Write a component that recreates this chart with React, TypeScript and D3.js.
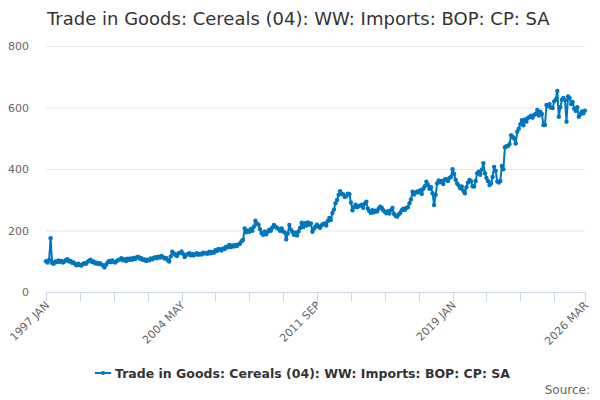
import React, { useEffect, useRef } from 'react';
import * as d3 from 'd3';

const TITLE = 'Trade in Goods: Cereals (04): WW: Imports: BOP: CP: SA';
const START_YEAR = 1997;
const MONTHS = ['JAN', 'FEB', 'MAR', 'APR', 'MAY', 'JUN', 'JUL', 'AUG', 'SEP', 'OCT', 'NOV', 'DEC'];
const yTicks = [0, 200, 400, 600, 800];
const labelledTicks = [0, 88, 176, 264, 350];

// monthly values (£m), one row per year
const v1997 = [100, 96, 104, 175, 94, 92, 99, 97, 103, 98, 101, 96];
const v1998 = [99, 104, 107, 99, 101, 95, 96, 90, 87, 92, 88, 86];
const v1999 = [91, 94, 92, 98, 102, 105, 97, 99, 93, 95, 91, 94];
const v2000 = [90, 86, 80, 89, 96, 101, 97, 103, 98, 96, 101, 104];
const v2001 = [106, 110, 103, 107, 101, 108, 104, 109, 105, 111, 107, 113];
const v2002 = [114, 108, 110, 104, 106, 101, 105, 103, 109, 106, 111, 113];
const v2003 = [110, 115, 112, 117, 113, 109, 111, 104, 99, 116, 131, 125];
const v2004 = [121, 117, 126, 127, 132, 124, 114, 120, 123, 126, 119, 124];
const v2005 = [119, 123, 126, 121, 124, 122, 128, 125, 127, 124, 131, 126];
const v2006 = [130, 128, 136, 133, 140, 138, 135, 142, 140, 147, 145, 153];
const v2007 = [146, 151, 148, 153, 150, 155, 157, 165, 170, 207, 194, 199];
const v2008 = [196, 205, 199, 212, 232, 222, 219, 204, 191, 186, 197, 188];
const v2009 = [196, 203, 199, 210, 218, 212, 209, 205, 199, 207, 197, 194];
const v2010 = [171, 190, 218, 203, 196, 186, 193, 184, 197, 208, 225, 211];
const v2011 = [224, 216, 226, 219, 223, 196, 206, 213, 219, 212, 209, 217];
const v2012 = [221, 223, 216, 231, 241, 234, 257, 268, 289, 299, 316, 328];
const v2013 = [319, 317, 309, 312, 320, 318, 291, 266, 276, 284, 276, 279];
const v2014 = [281, 284, 274, 287, 294, 271, 263, 257, 266, 259, 264, 262];
const v2015 = [271, 277, 274, 266, 261, 256, 263, 255, 266, 273, 254, 248];
const v2016 = [245, 252, 257, 266, 271, 267, 273, 276, 289, 301, 326, 317];
const v2017 = [323, 327, 324, 331, 319, 336, 344, 359, 349, 336, 341, 321];
const v2018 = [283, 316, 354, 363, 357, 361, 351, 366, 367, 361, 371, 374];
const v2019 = [399, 384, 365, 353, 346, 337, 343, 329, 321, 341, 356, 364];
const v2020 = [360, 344, 343, 361, 386, 391, 381, 398, 419, 386, 371, 361];
const v2021 = [348, 353, 374, 407, 394, 359, 356, 361, 410, 399, 471, 474];
const v2022 = [475, 481, 510, 504, 499, 483, 521, 531, 546, 559, 542, 561];
const v2023 = [554, 566, 569, 573, 567, 576, 579, 592, 574, 586, 579, 543];
const v2024 = [543, 608, 604, 611, 599, 598, 620, 626, 654, 570, 601, 625];
const v2025 = [631, 624, 554, 636, 631, 611, 618, 596, 589, 601, 570, 578];
const v2026 = [587, 581, 590];

const values = [
  v1997, v1998, v1999, v2000, v2001, v2002, v2003, v2004, v2005, v2006,
  v2007, v2008, v2009, v2010, v2011, v2012, v2013, v2014, v2015, v2016,
  v2017, v2018, v2019, v2020, v2021, v2022, v2023, v2024, v2025, v2026,
].flat();

const monthLabel = (i: number) => `${START_YEAR + Math.floor(i / 12)} ${MONTHS[i % 12]}`;

const W = 600;
const H = 400;
const margin = { left: 46, right: 15, top: 46, bottom: 108 };
const FONT = 'DejaVu Sans, sans-serif';
const BLUE = '#0076be';

export default function App() {
  const svgRef = useRef<SVGSVGElement>(null);

  useEffect(() => {
    if (svgRef.current === null) {
      return;
    }
    const svg = d3.select(svgRef.current);
    svg.selectAll('*').remove();

    const x = d3.scaleLinear().domain([0, values.length - 1]).range([margin.left, W - margin.right]);
    const y = d3.scaleLinear().domain([0, 800]).range([H - margin.bottom, margin.top]);

    svg.append('text')
      .attr('x', 47)
      .attr('y', 25)
      .attr('font-family', FONT)
      .attr('font-size', 18)
      .attr('fill', '#333')
      .text(TITLE);

    // gridlines + y labels
    const yAxis = svg.append('g');
    yAxis.selectAll('line')
      .data(yTicks.filter((t) => t > 0))
      .join('line')
      .attr('x1', margin.left)
      .attr('x2', W - margin.right)
      .attr('y1', (d) => y(d) + 0.5)
      .attr('y2', (d) => y(d) + 0.5)
      .attr('stroke', '#e6e6e6');
    yAxis.selectAll('text')
      .data(yTicks)
      .join('text')
      .attr('x', 29)
      .attr('y', (d) => y(d) + 4)
      .attr('text-anchor', 'end')
      .attr('font-family', FONT)
      .attr('font-size', 11)
      .attr('fill', '#666')
      .text((d) => d);

    // x axis
    const tickIdx = d3.range(0, values.length, 22).concat([values.length - 1]);
    const xAxis = svg.append('g');
    xAxis.append('line')
      .attr('x1', margin.left)
      .attr('x2', W - margin.right)
      .attr('y1', y(0) + 0.5)
      .attr('y2', y(0) + 0.5)
      .attr('stroke', '#ccd6eb');
    xAxis.selectAll('line.tick')
      .data(tickIdx)
      .join('line')
      .attr('class', 'tick')
      .attr('x1', (d) => Math.round(x(d)) + 0.5)
      .attr('x2', (d) => Math.round(x(d)) + 0.5)
      .attr('y1', y(0))
      .attr('y2', y(0) + 10)
      .attr('stroke', '#ccd6eb');
    xAxis.selectAll('text')
      .data(labelledTicks)
      .join('text')
      .attr('transform', (d) => `translate(${x(d) + 4},${y(0) + 14}) rotate(-45)`)
      .attr('text-anchor', 'end')
      .attr('font-family', FONT)
      .attr('font-size', 11)
      .attr('fill', '#666')
      .text((d) => monthLabel(d));

    // series
    const line = d3.line<number>().x((_, i) => x(i)).y((d) => y(d));
    svg.append('path')
      .datum(values)
      .attr('d', line)
      .attr('fill', 'none')
      .attr('stroke', BLUE)
      .attr('stroke-width', 2)
      .attr('stroke-linejoin', 'round');
    svg.append('g')
      .selectAll('circle')
      .data(values)
      .join('circle')
      .attr('cx', (_, i) => x(i))
      .attr('cy', (d) => y(d))
      .attr('r', 2.2)
      .attr('fill', BLUE);

    // legend
    const legend = svg.append('g').attr('transform', 'translate(95,373)');
    legend.append('line')
      .attr('x1', 0)
      .attr('x2', 16)
      .attr('y1', 0)
      .attr('y2', 0)
      .attr('stroke', BLUE)
      .attr('stroke-width', 2);
    legend.append('circle').attr('cx', 8).attr('cy', 0).attr('r', 2).attr('fill', BLUE);
    legend.append('text')
      .attr('x', 20)
      .attr('y', 5)
      .attr('font-family', FONT)
      .attr('font-size', 12.5)
      .attr('font-weight', 'bold')
      .attr('fill', '#333')
      .text(TITLE);

    svg.append('text')
      .attr('x', 590)
      .attr('y', 394)
      .attr('text-anchor', 'end')
      .attr('font-family', FONT)
      .attr('font-size', 12)
      .attr('fill', '#666')
      .text('Source:');
  }, []);

  return (
    <svg
      ref={svgRef}
      width={W}
      height={H}
      style={{ position: 'absolute', left: 0, top: 0, background: '#fff' }}
    />
  );
}
